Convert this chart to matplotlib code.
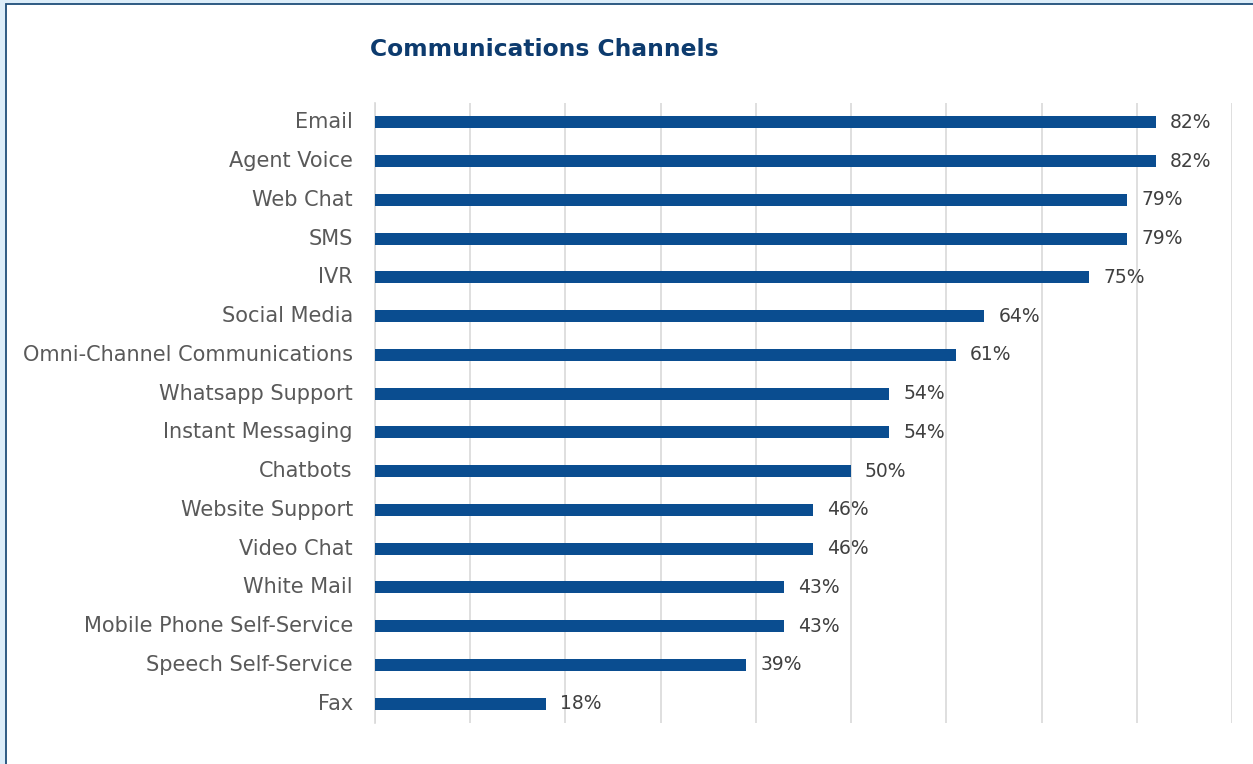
import matplotlib
matplotlib.use("Agg")
import matplotlib.pyplot as plt
from matplotlib.patches import Rectangle

categories = ["Email", "Agent Voice", "Web Chat", "SMS", "IVR", "Social Media",
              "Omni-Channel Communications", "Whatsapp Support", "Instant Messaging",
              "Chatbots", "Website Support", "Video Chat", "White Mail",
              "Mobile Phone Self-Service", "Speech Self-Service", "Fax"]
values = [82, 82, 79, 79, 75, 64, 61, 54, 54, 50, 46, 46, 43, 43, 39, 18]
title = "Communications Channels"

W, H = 1253, 764
fig = plt.figure(figsize=(W / 100, H / 100), dpi=100)
fig.patch.set_facecolor("#dcedf9")
fig.patches.append(Rectangle((6 / W, -0.1), 1.2, 1 - 4 / H + 0.1, transform=fig.transFigure,
                             facecolor="white", edgecolor="#1f4e79", linewidth=1.3, zorder=-10))

ax = fig.add_axes([375 / W, 1 - 723 / H, (1232 - 375) / W, (723 - 103) / H])
ax.set_zorder(5)
ax.set_facecolor("none")
y = list(range(len(categories)))
ax.barh(y, values, height=0.31, color="#0a4d90", zorder=3)
ax.set_xlim(0, 90)
ax.set_ylim(len(categories) - 0.5, -0.5)
ax.set_xticks(range(0, 91, 10))
ax.tick_params(axis="x", length=0, labelbottom=False)
ax.tick_params(axis="y", length=0, pad=16)
ax.set_yticks(y)
ax.set_yticklabels(categories, fontsize=15, color="#595959", family="DejaVu Sans",
                   va="center")
ax.grid(axis="x", color="#d9d9d9", linewidth=1.2, zorder=0)
for s in ["top", "right", "bottom"]:
    ax.spines[s].set_visible(False)
ax.spines["left"].set_color("#d9d9d9")
ax.spines["left"].set_linewidth(1.2)

for yi, v in zip(y, values):
    ax.annotate(f"{v}%", (v, yi), xytext=(10, 0), textcoords="offset points",
                va="center", ha="left", fontsize=13.5, color="#404040", family="DejaVu Sans")

fig.text(370 / W, 1 - 50 / H, title, fontsize=16.8, fontweight="bold", color="#0d3b6e",
         va="center", ha="left", family="DejaVu Sans")

fig.savefig("out.png", dpi=100, facecolor=fig.get_facecolor())
